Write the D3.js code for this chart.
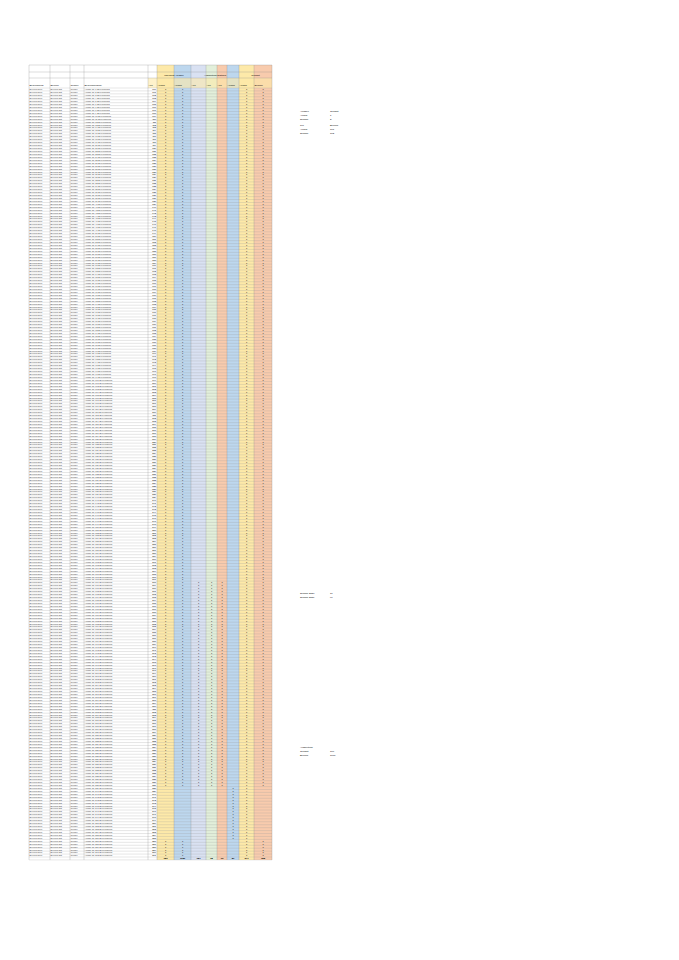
<!DOCTYPE html><html><head><meta charset="utf-8"><script src="https://cdn.jsdelivr.net/npm/d3@7"></script>
<style>body{margin:0;background:#fff}</style></head><body><svg id="s" width="679" height="960"></svg><script>
const colEdges=[29,50,70,84,148,157,174,191,206,217,227,239,254,272];
const colFills=["#fff","#fff","#fff","#fff","#fff","#fde9a9","#bdd7ee","#d9e1f2","#e2efda","#f8cbad","#bdd7ee","#fde9a9","#f8cbad"];
const headers=["Bezeichnung","Bereich","Gruppe","Bezeichnung/Nr.","Anz.","Anzahl","Anzahl","Anz.","Anz.","Anz.","Anzahl","Anzahl","Summe"];
// row segments: number of rows and which value columns are filled
const segCounts=[168,70,18,6];
const segValues=[[1,1,0,0,0,0,1,1],[1,1,1,1,1,0,1,1],[0,0,0,0,0,1,1,0],[1,1,0,0,0,0,1,1]];
const totals=["186","1180","181","68","93","81","371","188"];
const svg=d3.select("#s");
const top0=88,rowsN=d3.sum(segCounts);
const y=d3.scaleLinear().domain([0,rowsN]).range([top0,857]);
const rh=y(1)-y(0);
// column fills
colFills.forEach((c,i)=>{if(c!="#fff")svg.append("rect").attr("x",colEdges[i]).attr("y",65).attr("width",colEdges[i+1]-colEdges[i]).attr("height",857+rh-65).attr("fill",c);});
svg.append("rect").attr("x",colEdges[4]).attr("y",78).attr("width",colEdges[13]-colEdges[4]).attr("height",10).attr("fill","#fde9a9").attr("opacity",0.6);
// grid rows
for(let r=0;r<=rowsN+1;r++)svg.append("line").attr("x1",29).attr("x2",272).attr("y1",y(r)).attr("y2",y(r)).attr("stroke","#999").attr("stroke-width",0.25);
[65,72,78].forEach(v=>svg.append("line").attr("x1",29).attr("x2",272).attr("y1",v).attr("y2",v).attr("stroke","#888").attr("stroke-width",0.3));
colEdges.forEach(v=>svg.append("line").attr("x1",v).attr("x2",v).attr("y1",65).attr("y2",y(rowsN+1)).attr("stroke","#888").attr("stroke-width",0.3));
// headers
headers.forEach((h,i)=>svg.append("text").attr("x",colEdges[i]+0.5).attr("y",86).attr("font-size",2.4).attr("font-family","Liberation Sans").text(h));
[["Übersicht Anlagen",157,191],["Auswertung Zustand",191,239],["Gesamt",239,272]].forEach(g=>svg.append("text").attr("x",(g[1]+g[2])/2).attr("y",76).attr("text-anchor","middle").attr("font-size",2.4).attr("font-family","Liberation Sans").text(g[0]));
// rows
let r=0;
segCounts.forEach((n,si)=>{for(let k=0;k<n;k++,r++){const yy=y(r)+rh-0.6;
 ["Bereich Nord","Bereich Ost","Gruppe","Anlage Nr. "+(r+1)+" Bezeichnung"].forEach((t,i)=>svg.append("text").attr("x",colEdges[i]+0.5).attr("y",yy).attr("font-size",2.2).attr("fill","#444").attr("font-family","Liberation Sans").text(t));
 svg.append("text").attr("x",colEdges[5]-1).attr("y",yy).attr("text-anchor","end").attr("font-size",2.2).attr("font-family","Liberation Sans").text(100+r);
 segValues[si].forEach((v,j)=>{if(v)svg.append("text").attr("x",(colEdges[j+5]+colEdges[j+6])/2).attr("y",yy).attr("text-anchor","middle").attr("font-size",2.2).attr("font-family","Liberation Sans").text(v);});
}});
totals.forEach((t,j)=>svg.append("text").attr("x",(colEdges[j+5]+colEdges[j+6])/2).attr("y",y(rowsN+1)-0.5).attr("text-anchor","middle").attr("font-size",2.4).attr("font-weight","bold").attr("font-family","Liberation Sans").text(t));
// side notes
const notes=[[300,112,"Anlagen","Gesamt"],[300,116,"Anzahl","1"],[300,120,"Summe","2"],[300,126,"Typ","Bereich"],[300,130,"Anzahl","101"],[300,134,"Summe","102"],[300,594,"Summe 2020","17"],[300,598,"Summe 2021","96"],[300,748,"Auswertung",""],[300,752,"Gesamt","100"],[300,756,"Bereich","1000"]];
notes.forEach(n=>{svg.append("text").attr("x",n[0]).attr("y",n[1]).attr("font-size",2.4).attr("font-family","Liberation Sans").text(n[2]);svg.append("text").attr("x",n[0]+30).attr("y",n[1]).attr("font-size",2.4).attr("font-family","Liberation Sans").text(n[3]);});
</script></body></html>
